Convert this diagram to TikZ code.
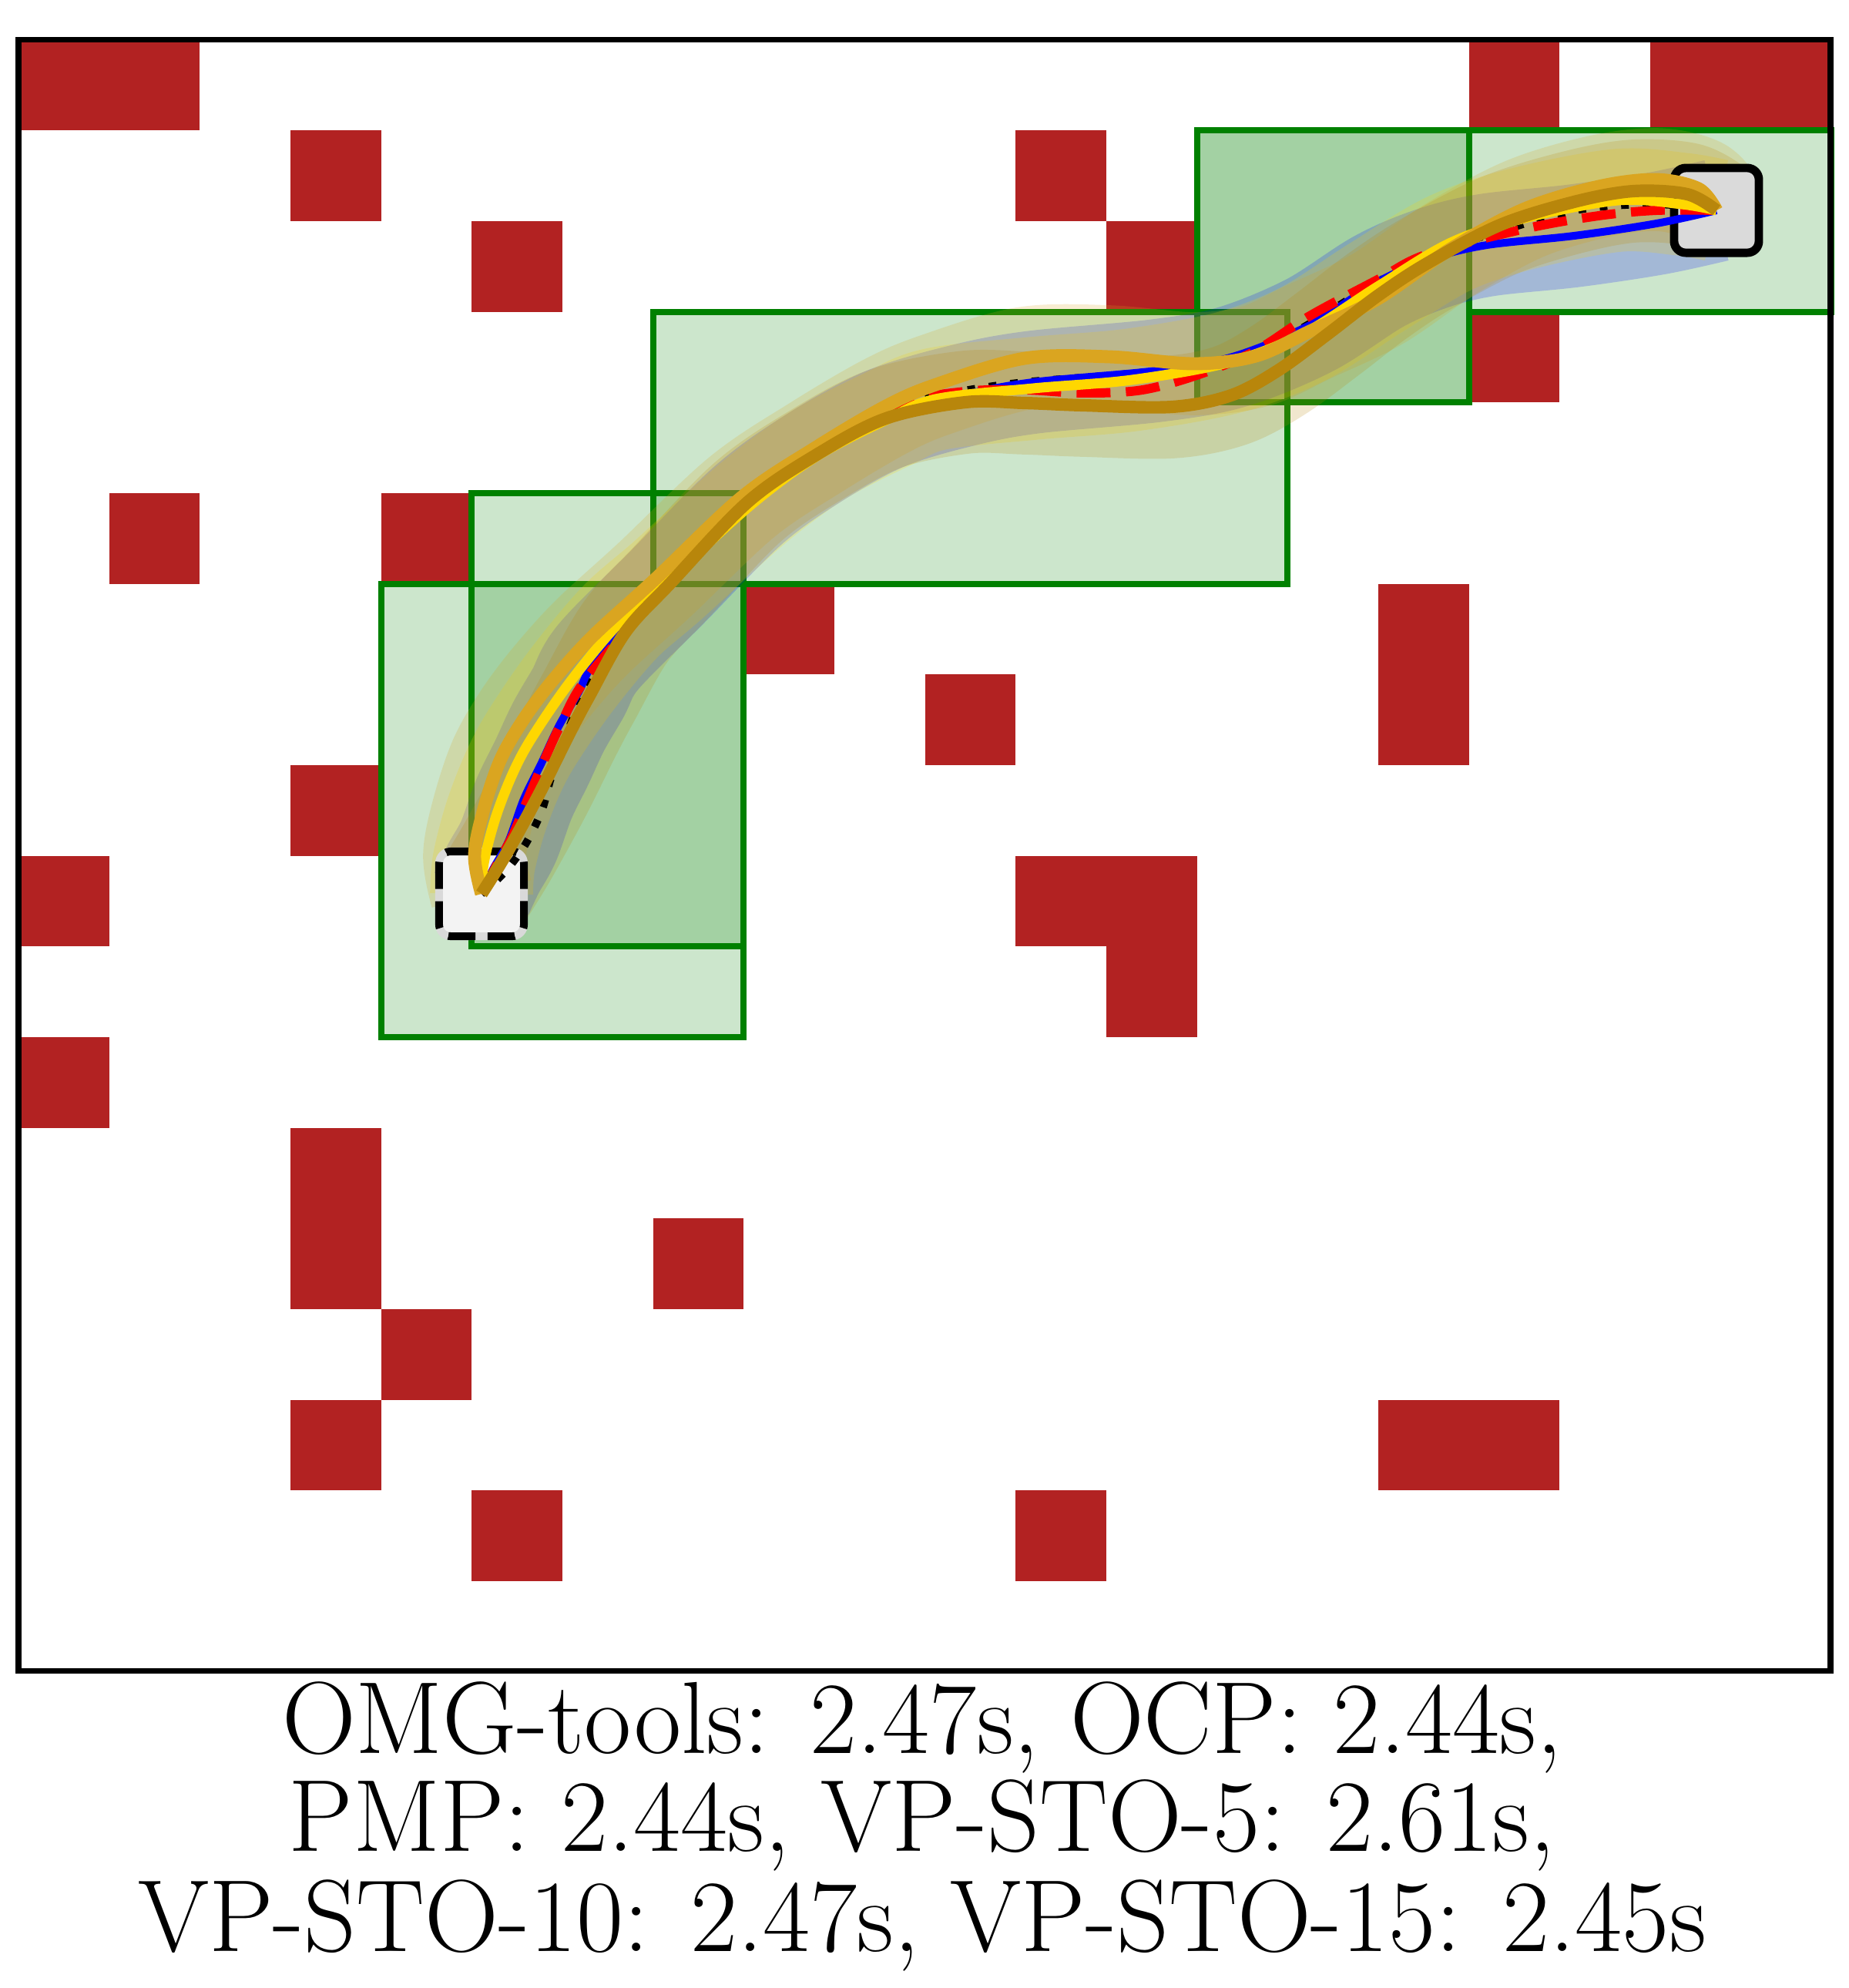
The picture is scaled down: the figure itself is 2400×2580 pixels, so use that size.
\documentclass[tikz,border=0pt]{standalone}
\definecolor{firebrick}{RGB}{178,34,34}
\definecolor{goldenrod}{RGB}{218,165,32}
\definecolor{darkgoldenrod}{RGB}{184,134,11}
\definecolor{gold}{RGB}{255,215,0}
\definecolor{boxgreen}{RGB}{0,128,0}
\definecolor{startfill}{RGB}{243,243,243}
\definecolor{startrim}{RGB}{217,217,217}
\definecolor{goalfill}{RGB}{218,218,218}

% trajectories in pixel coordinates (origin top-left, y downwards)
\def\PGone{(625,1160) (616,1110) (628,1050) (650,985) (682,930) (720,880) (770,825) (850,752) (963,645) (1060,580) (1150,527) (1215,499) (1330,465) (1440,463) (1550,472) (1630,462) (1700,430) (1788,388) (1883,323) (1979,271) (2075,242) (2150,233) (2205,245) (2228,273)}
\def\PGtwo{(625,1160) (656,1110) (700,1030) (740,950) (765,903) (812,820) (870,757) (970,652) (1060,590) (1150,543) (1253,522) (1330,523) (1406,526) (1521,528) (1598,513) (1660,480) (1724,433) (1788,384) (1852,342) (1947,292) (2043,262) (2120,248) (2190,252) (2228,273)}
\def\PGold{(625,1160) (628,1120) (643,1062) (665,1005) (690,958) (740,885) (804,808) (868,752) (975,655) (1060,592) (1150,545) (1214,518) (1341,504) (1469,493) (1596,470) (1692,433) (1788,372) (1883,315) (1979,283) (2100,260) (2183,265) (2228,273)}
\def\PBlue{(625,1160) (640,1128) (660,1092) (680,1037) (703,990) (725,943) (750,900) (777,852) (866,762) (972,655) (1060,592) (1150,543) (1250,513) (1341,496) (1501,481) (1600,463) (1700,422) (1790,365) (1860,335) (1930,318) (2043,306) (2150,290) (2228,273)}
\def\PRed{(625,1160) (645,1122) (665,1085) (685,1037) (705,990) (728,940) (763,878) (866,760) (972,653) (1060,588) (1169,525) (1253,508) (1330,506) (1406,510) (1483,506) (1559,485) (1630,455) (1700,410) (1788,363) (1852,330) (1979,297) (2075,280) (2150,273) (2228,273)}
\def\PBlack{(625,1160) (655,1132) (678,1102) (693,1075) (705,1047) (715,1010) (730,970) (755,905) (800,835) (866,762) (972,652) (1060,585) (1160,527) (1246,508) (1330,496) (1444,487) (1540,477) (1628,459) (1700,420) (1788,366) (1870,326) (1947,300) (2050,272) (2150,265) (2228,273)}

\newcommand\smoothplot[2]{\draw[#2] plot[smooth, tension=0.55] coordinates {#1};}

\tikzset{
  obst/.style={fill=firebrick},
  freebox/.style={fill=boxgreen, fill opacity=0.2, draw=boxgreen, line width=2.28pt},
  sweep/.style={draw=#1, draw opacity=0.2, line width=38pt, line cap=butt, line join=round},
  trajblack/.style={black, line width=2.85pt, dash pattern=on 2.85pt off 5.1pt},
  trajblue/.style={blue, line width=2.85pt, line join=round},
  trajred/.style={red, line width=3.4pt, dash pattern=on 12.5pt off 5.7pt},
  trajgold/.style={gold, line width=3.7pt, line join=round},
  trajgr/.style={goldenrod, line width=4.8pt, line join=round},
  trajdgr/.style={darkgoldenrod, line width=4.6pt, line join=round},
  startbox/.style={minimum size=1.1cm, inner sep=0pt, outer sep=0pt, fill=startfill, draw=startrim,
    line width=2.85pt, rounded corners=4.3pt,
    postaction={draw=black, line width=2.85pt, dash pattern=on 10pt off 4.5pt}},
  goalbox/.style={minimum size=1.1cm, inner sep=0pt, outer sep=0pt, fill=goalfill, draw=black,
    line width=3.1pt, rounded corners=4.3pt},
  captext/.style={font=\fontsize{37.8pt}{38pt}\selectfont, inner sep=0pt, anchor=base},
  frame/.style={draw=black, line width=2pt}
}

\begin{document}
\begin{tikzpicture}[x=0.01cm, y=-0.01cm]
\useasboundingbox (0,0) rectangle (2400,2580);
\coordinate (S) at (625,1160);
\coordinate (E) at (2228,273);

% grid: obstacles and free regions
\begin{scope}[shift={(24,51.5)}, x=1.176cm, y=-1.176cm]
  \foreach \c/\r/\w/\h in {0/0/2/1, 3/1/1/1, 5/2/1/1, 11/1/1/1, 12/2/1/1, 16/0/1/1, 18/0/2/1,
     16/3/1/1, 1/5/1/1, 4/5/1/1, 8/6/1/1, 10/7/1/1, 15/6/1/2, 3/8/1/1, 0/9/1/1, 11/9/2/1,
     12/10/1/1, 0/11/1/1, 3/12/1/2, 7/13/1/1, 4/14/1/1, 3/15/1/1, 15/15/2/1, 5/16/1/1, 11/16/1/1}
     {\fill[obst] (\c,\r) rectangle ++(\w,\h);}
  \foreach \a/\b/\c/\d in {4/6/8/11, 5/5/8/10, 7/3/14/6, 13/1/16/4, 13/1/16/4, 16/1/20/3}
     {\path[freebox] (\a,\b) rectangle (\c,\d);}
\end{scope}

% swept regions of the robot footprint
\expandafter\smoothplot\expandafter{\PBlue}{sweep=blue}
\expandafter\smoothplot\expandafter{\PGold}{sweep=gold}
\expandafter\smoothplot\expandafter{\PGone}{sweep=goldenrod}
\expandafter\smoothplot\expandafter{\PGtwo}{sweep=darkgoldenrod}

% start and goal
\node[startbox] (start) at (S) {};
\node[goalbox] (goal) at (E) {};

% trajectories
\expandafter\smoothplot\expandafter{\PBlack}{trajblack}
\expandafter\smoothplot\expandafter{\PBlue}{trajblue}
\expandafter\smoothplot\expandafter{\PRed}{trajred}
\expandafter\smoothplot\expandafter{\PGold}{trajgold}
\expandafter\smoothplot\expandafter{\PGone}{trajgr}
\expandafter\smoothplot\expandafter{\PGtwo}{trajdgr}

% frame
\path[frame] (24,51.5) rectangle (2376,2168);

% caption
\node[captext] (cap1) at (1197,2275) {OMG-tools: 2.47s, OCP: 2.44s,};
\node[captext] (cap2) at (1197,2402) {PMP: 2.44s, VP-STO-5: 2.61s,};
\node[captext] (cap3) at (1197,2532) {VP-STO-10: 2.47s, VP-STO-15: 2.45s};
\end{tikzpicture}
\end{document}
